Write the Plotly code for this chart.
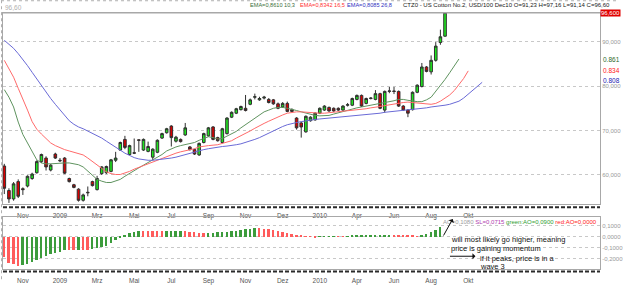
import math
import plotly.graph_objects as go

# ---------------- data (weekly bars, Nov 2008 - Aug 2010) ----------------
open_ = [62.0, 56.5, 54.6, 58.5, 56.9, 57.5, 59.2, 60.5, 63.0, 63.8,
         61.1, 64.7, 63.3, 63.8, 59.2, 57.8, 56.8, 54.3, 56.1, 58.5,
         56.7, 60.3, 60.5, 60.8, 63.3, 65.6, 68.0, 64.6, 65.0, 67.9,
         65.6, 65.3, 64.0, 65.1, 68.3, 69.5, 71.0, 67.6, 68.0, 69.0,
         66.3, 65.7, 64.5, 67.3, 68.8, 70.8, 68.4, 67.3, 69.3, 73.0,
         73.9, 74.7, 75.0, 75.9, 77.5, 76.9, 77.3, 77.0, 76.9, 76.0,
         75.3, 76.1, 74.7, 72.8, 71.7, 69.7, 72.2, 72.4, 73.9, 74.6,
         75.2, 75.0, 75.0, 74.6, 75.7, 75.7, 77.0, 77.9, 76.1, 77.2,
         77.0, 78.3, 74.6, 78.8, 78.9, 78.8, 75.5, 74.6, 74.7, 78.6,
         79.9, 84.3, 83.2, 85.8, 89.8, 91.23]
high = [62.5, 57.0, 58.4, 59.0, 57.2, 59.9, 60.5, 63.3, 64.8, 64.2,
        62.5, 65.0, 63.8, 64.0, 59.4, 58.0, 57.0, 55.8, 57.4, 58.7,
        59.8, 62.0, 62.1, 63.6, 65.2, 67.5, 68.8, 66.8, 68.2, 68.0,
        68.2, 67.5, 66.0, 68.0, 69.5, 70.6, 71.2, 68.8, 68.2, 71.7,
        66.5, 65.9, 67.3, 69.5, 70.8, 71.0, 68.6, 70.6, 73.0, 74.3,
        75.1, 75.6, 78.0, 77.2, 78.3, 77.6, 77.8, 77.3, 77.1, 76.3,
        76.4, 76.5, 75.0, 73.0, 72.0, 73.4, 73.2, 74.1, 75.2, 75.7,
        75.4, 75.2, 75.2, 75.7, 76.2, 77.4, 78.1, 78.1, 77.4, 77.5,
        79.1, 78.5, 79.0, 79.8, 79.8, 79.0, 75.7, 74.8, 78.8, 80.4,
        85.2, 84.5, 86.9, 89.9, 92.7, 97.16]
low = [55.7, 53.7, 54.2, 54.8, 55.5, 57.2, 58.9, 60.3, 62.7, 61.0,
       60.8, 63.6, 62.9, 60.2, 58.3, 57.0, 54.0, 54.0, 55.2, 57.4,
       56.5, 60.0, 60.2, 60.6, 62.9, 65.4, 65.8, 64.4, 64.7, 65.2,
       65.4, 65.1, 63.3, 64.9, 68.1, 69.3, 66.4, 67.3, 67.3, 68.8,
       65.5, 64.5, 64.3, 67.1, 68.6, 67.8, 67.5, 67.1, 69.1, 72.8,
       73.7, 74.5, 74.3, 75.7, 77.0, 76.7, 77.0, 76.1, 75.8, 74.8,
       75.1, 74.1, 74.1, 70.2, 68.4, 69.5, 72.0, 72.2, 73.7, 74.4,
       74.2, 74.2, 74.4, 74.4, 75.4, 75.5, 76.8, 75.3, 75.9, 77.0,
       76.8, 74.8, 74.0, 78.4, 78.2, 75.3, 74.4, 73.0, 74.5, 78.4,
       79.7, 83.1, 82.6, 85.5, 89.3, 91.14]
close = [57.0, 54.6, 58.0, 55.2, 56.7, 59.7, 60.2, 63.0, 64.6, 61.8,
         62.2, 63.8, 63.2, 60.4, 58.5, 57.2, 54.3, 55.5, 56.0, 57.6,
         59.2, 61.8, 61.9, 63.4, 63.8, 67.3, 66.2, 66.6, 64.9, 67.8,
         68.0, 66.4, 65.8, 67.8, 69.3, 70.4, 68.4, 68.5, 67.5, 70.6,
         65.7, 64.7, 67.1, 69.3, 70.6, 68.0, 67.7, 70.4, 72.8, 74.1,
         74.9, 75.4, 74.5, 76.9, 77.6, 77.2, 77.5, 76.3, 76.0, 75.0,
         76.1, 74.3, 74.3, 70.6, 70.8, 73.2, 73.0, 73.9, 75.0, 75.5,
         74.4, 74.4, 74.6, 75.5, 75.8, 77.2, 77.9, 75.5, 77.2, 77.3,
         78.3, 75.0, 78.8, 78.9, 78.8, 75.5, 74.6, 73.9, 78.6, 80.2,
         84.3, 83.3, 85.8, 89.0, 91.1, 96.60]

# EMA lines (already displaced forward: 3, 5 and 8 bars)
ema_fast = [79.2, 77.5, 75.3, 71.9, 69.1, 67.2, 65.4, 63.4, 62.7, 62.5,
            62.5, 62.6, 62.7, 62.7, 62.7, 62.5, 62.3, 61.8, 60.9, 59.8,
            59.0, 58.6, 58.3, 58.3, 58.6, 59.0, 59.7, 60.4, 61.0, 61.6,
            62.2, 62.8, 63.3, 64.0, 64.6, 65.4, 65.9, 66.3, 66.6, 66.8,
            67.0, 67.3, 67.8, 68.2, 68.6, 68.4, 68.1, 68.2, 68.7, 69.2,
            69.8, 70.6, 71.3, 72.1, 72.9, 73.6, 74.2, 74.6, 75.0, 75.2,
            75.2, 75.0, 74.8, 74.5, 74.2, 73.9, 73.6, 73.4, 73.3, 73.3,
            73.4, 73.7, 74.0, 74.3, 74.6, 74.9, 75.1, 75.3, 75.5, 75.7,
            75.9, 76.0, 76.2, 76.5, 76.7, 77.0, 77.0, 76.8, 76.6, 76.5,
            76.5, 76.9, 77.5, 78.8, 80.0, 81.5, 83.0, 84.6, 86.10]
ema_mid = [85.8, 84.0, 82.0, 79.5, 77.2, 74.6, 72.0, 70.3, 69.2, 68.1,
           67.2, 66.6, 66.1, 65.7, 65.4, 65.1, 64.9, 64.5, 63.8, 63.0,
           62.1, 61.3, 60.7, 60.3, 60.1, 60.1, 60.4, 60.8, 61.3, 61.7,
           62.1, 62.5, 62.9, 63.3, 63.7, 64.2, 64.6, 64.9, 65.2, 65.4,
           65.6, 65.9, 66.3, 66.5, 66.6, 66.7, 66.8, 67.1, 67.4, 67.7,
           68.3, 68.8, 69.3, 69.9, 70.5, 71.1, 71.6, 72.1, 72.6, 73.1,
           73.5, 73.9, 74.1, 74.2, 74.2, 74.1, 74.0, 73.9, 73.9, 73.9,
           74.0, 74.1, 74.2, 74.3, 74.4, 74.5, 74.6, 74.8, 74.9, 75.1,
           75.2, 75.4, 75.6, 75.8, 76.0, 76.1, 76.3, 76.4, 76.3, 76.1,
           76.0, 75.9, 75.9, 76.1, 76.6, 77.3, 78.0, 79.0, 80.3, 81.7,
           83.42]
ema_slow = [90.3, 89.5, 88.5, 87.3, 86.0, 84.6, 83.1, 81.6, 80.1, 78.6,
            77.2, 75.9, 74.6, 73.3, 72.2, 71.4, 70.8, 70.4, 69.9, 69.4,
            68.9, 68.3, 67.6, 66.9, 66.2, 65.5, 64.9, 64.4, 63.9, 63.6,
            63.4, 63.3, 63.3, 63.4, 63.5, 63.6, 63.8, 64.0, 64.3, 64.5,
            64.8, 65.1, 65.4, 65.7, 65.9, 66.1, 66.2, 66.4, 66.5, 66.6,
            66.8, 67.0, 67.3, 67.6, 68.0, 68.4, 68.9, 69.4, 70.0, 70.5,
            70.9, 71.3, 71.6, 71.8, 72.0, 72.2, 72.4, 72.5, 72.6, 72.7,
            72.8, 72.9, 73.0, 73.0, 73.1, 73.2, 73.3, 73.4, 73.5, 73.6,
            73.8, 73.9, 74.1, 74.2, 74.3, 74.5, 74.6, 74.7, 74.8, 74.9,
            75.0, 75.1, 75.3, 75.4, 75.6, 75.7, 75.9, 76.2, 76.6, 77.3,
            78.2, 79.0, 79.8, 80.85]

# Awesome Oscillator
ao = [-0.179, -0.236, -0.248, -0.262, -0.257, -0.245, -0.232, -0.210, -0.190, -0.172,
      -0.156, -0.144, -0.134, -0.118, -0.121, -0.123, -0.118, -0.120, -0.122, -0.113,
      -0.104, -0.096, -0.082, -0.054, -0.024, -0.003, 0.018, 0.036, 0.045, 0.056,
      0.055, 0.054, 0.053, 0.052, 0.050, 0.051, 0.053, 0.054, 0.056, 0.054,
      0.049, 0.043, 0.039, 0.035, 0.037, 0.040, 0.042, 0.045, 0.048, 0.051,
      0.057, 0.062, 0.068, 0.071, 0.078, 0.077, 0.074, 0.068, 0.063, 0.054,
      0.045, 0.036, 0.027, 0.018, 0.009, 0.006, 0.003, -0.002, 0.001, 0.004,
      0.006, 0.008, 0.007, 0.006, 0.008, 0.009, 0.010, 0.011, 0.012, 0.013,
      0.014, 0.015, 0.016, 0.017, 0.016, 0.015, 0.013, 0.011, 0.009, 0.007,
      0.014, 0.027, 0.045, 0.066, 0.090]

tick_idx = [4, 12, 20, 28, 36, 44, 52, 60, 68, 76, 84, 92, 100]
tick_lbl = ["Nov", "2009", "Mrz", "Mai", "Jul", "Sep", "Nov", "Dez",
            "2010", "Apr", "Jun", "Aug", "Okt"]
price_ticks = [60, 70, 80, 90]
ao_ticks = [0.1, 0.0, -0.1, -0.2]

# ---------------- geometry helpers ----------------
W, H = 625, 287
ML, MR, MT, MB = 2, 19, 13, 13
PW, PH = W - ML - MR, H - MT - MB


def px(x):
    return (x - ML) / PW


def py(y):
    return (H - MB - y) / PH


def de(v, nd):
    return f"{v:.{nd}f}".replace(".", ",")


def trunc3(v):
    return f"{math.floor(v * 10 + 1e-9) / 1000:.3f}"


FONT = "Liberation Sans, Arial, sans-serif"
xr = [-0.28, 128.4]

fig = go.Figure()

fig.add_trace(go.Candlestick(
    x=list(range(len(close))), open=open_, high=high, low=low, close=close,
    increasing=dict(fillcolor="#1ee61e", line=dict(color="#303030", width=1)),
    decreasing=dict(fillcolor="#d80000", line=dict(color="#303030", width=1)),
    whiskerwidth=0, xaxis="x", yaxis="y", showlegend=False, hoverinfo="skip"))

for vals, col in [(ema_fast, "#5f935f"), (ema_mid, "#ff6a6a"), (ema_slow, "#6a6ad6")]:
    fig.add_trace(go.Scatter(x=list(range(len(vals))), y=vals, mode="lines",
                             line=dict(color=col, width=1), xaxis="x", yaxis="y",
                             showlegend=False, hoverinfo="skip"))

ao_cols = []
for i, v in enumerate(ao):
    up = i > 0 and v >= ao[i - 1]
    ao_cols.append("#3c9c3c" if up else "#ff5c5c")
fig.add_trace(go.Bar(x=list(range(len(ao))), y=ao, marker=dict(color=ao_cols, line=dict(width=0)),
                     width=0.42, xaxis="x2", yaxis="y2", showlegend=False, hoverinfo="skip"))

axis_common = dict(showline=True, mirror=True, linecolor="#a8a8a8", linewidth=1,
                   zeroline=False, ticks="", fixedrange=True)

fig.update_layout(
    width=W, height=H, margin=dict(l=ML, r=MR, t=MT, b=MB),
    paper_bgcolor="white", plot_bgcolor="white", boxgap=0.2, bargap=0,
    font=dict(family=FONT, size=6, color="#444"),
    xaxis=dict(domain=[0, 1], range=xr, anchor="y", tickvals=tick_idx, ticktext=tick_lbl,
               showgrid=False, tickfont=dict(size=6.5, color="#555"),
               rangeslider=dict(visible=False), ticklabelstandoff=5, **axis_common),
    xaxis2=dict(domain=[0, 1], range=xr, anchor="y2", tickvals=tick_idx, ticktext=tick_lbl,
                showgrid=False, tickfont=dict(size=6.5, color="#555"), ticklabelstandoff=5,
                **axis_common),
    yaxis=dict(domain=[py(208), 1], range=[53.4, 96.45], side="right",
               tickvals=price_ticks, ticktext=[de(t, 3) for t in price_ticks],
               showgrid=True, gridcolor="#c8c8c8", griddash="dot", gridwidth=1,
               tickfont=dict(size=6, color="#999"), **axis_common),
    yaxis2=dict(domain=[0, py(221)], range=[-0.292, 0.181], side="right",
                tickvals=ao_ticks, ticktext=[de(t, 4) for t in ao_ticks],
                showgrid=True, gridcolor="#c8c8c8", griddash="dot", gridwidth=1,
                tickfont=dict(size=6, color="#999"), **axis_common),
)

shapes = [
    dict(type="line", xref="paper", yref="paper", x0=px(0), x1=px(625), y0=py(13), y1=py(13),
         line=dict(color="#a8a8a8", width=1)),
    dict(type="line", xref="paper", yref="paper", x0=px(2), x1=px(606), y0=py(211), y1=py(211),
         line=dict(color="#2a2a2a", width=2, dash="4px,2px")),
    dict(type="line", xref="paper", yref="paper", x0=px(2), x1=px(606), y0=py(276.5), y1=py(276.5),
         line=dict(color="#2a2a2a", width=2, dash="4px,2px")),
    dict(type="line", xref="paper", yref="paper", x0=px(0.5), x1=px(0.5), y0=py(0), y1=py(287),
         line=dict(color="#b0b0b0", width=1, dash="dot")),
    dict(type="line", xref="paper", yref="paper", x0=px(0), x1=px(625), y0=py(0.5), y1=py(0.5),
         line=dict(color="#b0b0b0", width=1, dash="dot")),
]
fig.update_layout(shapes=shapes)

ann = []


def txt(x, y, s, size=6, color="#000", xanchor="left", **kw):
    ann.append(dict(xref="paper", yref="paper", x=px(x), y=py(y), text=s, showarrow=False,
                    xanchor=xanchor, yanchor="middle", font=dict(family=FONT, size=size, color=color),
                    **kw))


last = len(close) - 1
txt(2, 7, de(close[last], 2), size=6.5, color="#b0b0b0")
txt(250, 5, f"EMA={de(ema_fast[-1] / 100, 4)} 10,3", size=5.6, color="#3a6e3a")
txt(300, 5, f"EMA={de(ema_mid[-1] / 100, 4)} 16,5", size=5.6, color="#ff3030")
txt(348, 5, f"EMA={de(ema_slow[-1] / 100, 4)} 26,8", size=5.6, color="#3030c0")
txt(405, 5, f"CTZ0 - US Cotton No.2, USD/100 Dec10 O={de(open_[last], 2)} "
            f"H={de(high[last], 2)} L={de(low[last], 2)} C={de(close[last], 2)}",
    size=6, color="#202020")
txt(606, 12.7, de(close[last], 3), size=6, color="white", bgcolor="#e00000", borderpad=0)
txt(607, 60.7, trunc3(ema_fast[-1]), size=6.5, color="#2a6a2a")
txt(607, 71.7, trunc3(ema_mid[-1]), size=6.5, color="#ff2020")
txt(607, 81.6, trunc3(ema_slow[-1]), size=6.5, color="#2020b0")

txt(605, 226,
    '<span style="color:#a0a0a0">AO=0,1080</span> '
    '<span style="color:#b040b0">SL=0,0715</span> '
    f'<span style="color:#30a030">green:AO={de(ao[-1], 4)}</span> '
    '<span style="color:#ff2020">red:AO=0,0000</span>', size=6, xanchor="right")

txt(453, 244.3, "will most likely go higher, meaning", size=7.5, color="#111")
txt(453, 253.3, "price is gaining momentum", size=7.5, color="#111")
txt(483, 263.3, "if it peaks, price is in a", size=7.5, color="#111")
txt(483, 271.5, "wave 3", size=7.5, color="#111")

ann.append(dict(xref="paper", yref="paper", x=px(457), y=py(223), ax=-10, ay=18,
                axref="pixel", ayref="pixel", text="", showarrow=True,
                arrowhead=1, arrowsize=1, arrowwidth=1, arrowcolor="#111"))
ann.append(dict(xref="paper", yref="paper", x=px(480), y=py(261), ax=-27, ay=0,
                axref="pixel", ayref="pixel", text="", showarrow=True,
                arrowhead=1, arrowsize=1, arrowwidth=1, arrowcolor="#111"))

fig.update_layout(annotations=ann)

fig.write_html("out.html")
